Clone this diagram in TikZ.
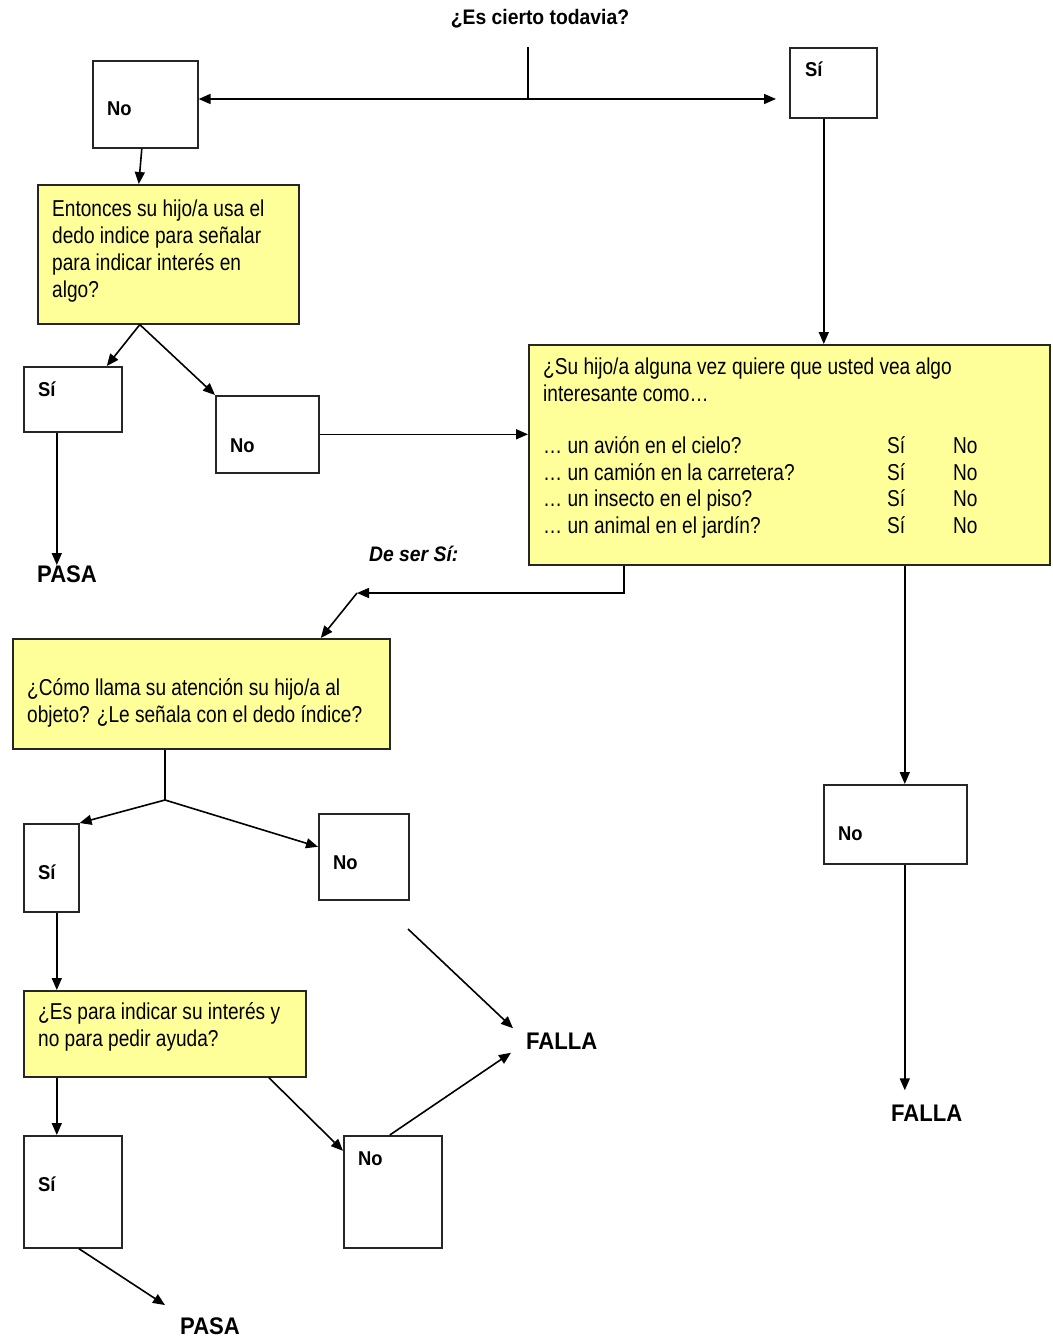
\documentclass[tikz,border=0pt]{standalone}
\usepackage{fontspec}
\setmainfont{Liberation Sans}[FakeStretch=0.83]
\newfontfamily\lblfont{Liberation Sans}[FakeStretch=0.92]
\usetikzlibrary{arrows.meta,calc}
\definecolor{qyellow}{HTML}{FFFF99}
\begin{document}
\begin{tikzpicture}[x=1pt,y=-1pt,
  box/.style={draw=black!85,line width=1.6pt,inner sep=0,anchor=north west},
  qbox/.style={box,fill=qyellow},
  txt/.style={inner sep=0,anchor=base west,font=\fontsize{23}{27}\selectfont},
  lbl/.style={inner sep=0,anchor=base west,font=\lblfont\bfseries\fontsize{20}{24}\selectfont},
  res/.style={inner sep=0,anchor=base west,font=\lblfont\bfseries\fontsize{24}{28}\selectfont},
  link/.style={line width=1.6pt},
  arr/.style={link,-{Triangle[length=12pt,width=10pt]}},
  dblarr/.style={link,{Triangle[length=12pt,width=10pt]}-{Triangle[length=12pt,width=10pt]}}]
\useasboundingbox (0,0) rectangle (1052,1337);

% title and first split
\node[inner sep=0,anchor=base,font=\lblfont\bfseries\fontsize{21}{25}\selectfont] (title) at (540,25) {¿Es cierto todavia?};
\node[box,minimum width=105,minimum height=87] (no1) at (92,60) {};
\node[lbl] (no1t) at (107,116) {No};
\node[box,minimum width=87,minimum height=70] (si1) at (789,47) {};
\node[lbl] (si1t) at (805,77) {Sí};
\coordinate (junction) at (528,99);
\draw[link] (junction) ++(0,-52) -- (junction);
\draw[dblarr] (no1.east |- junction) -- ([xshift=-13pt]si1.west |- junction);

% first question
\node[qbox,minimum width=261,minimum height=139] (y1) at (37,184) {};
\node[txt] (y1a) at (52,217) {Entonces su hijo/a usa el};
\node[txt] (y1b) at (52,244) {dedo indice para señalar};
\node[txt] (y1c) at (52,271) {para indicar interés en};
\node[txt] (y1d) at (52,298) {algo?};
\draw[arr] ([xshift=-3.5pt]no1.south) -- ([xshift=-29.5pt]y1.north);

\node[box,minimum width=98,minimum height=65] (si2) at (23,366) {};
\node[lbl] (si2t) at (38,396) {Sí};
\node[box,minimum width=103,minimum height=77] (no2) at (215,395) {};
\node[lbl] (no2t) at (230,452) {No};
\draw[arr] ([xshift=-28.5pt]y1.south) -- ([xshift=34pt]si2.north);
\draw[arr] ([xshift=-28.5pt]y1.south) -- (no2.north west);
\node[res] (pasa1) at (37,582) {PASA};
\draw[arr] ([xshift=-16pt]si2.south) -- ([xshift=-16pt]si2.south |- pasa1.north);

% second question
\node[qbox,minimum width=521,minimum height=220] (y2) at (528,344) {};
\node[txt] (y2a) at (543,374) {¿Su hijo/a alguna vez quiere que usted vea algo};
\node[txt] (y2b) at (543,401) {interesante como…};
\node[txt] (y2c) at (543,453) {… un avión en el cielo?};
\node[txt] (y2d) at (543,480) {… un camión en la carretera?};
\node[txt] (y2e) at (543,506) {… un insecto en el piso?};
\node[txt] (y2f) at (543,533) {… un animal en el jardín?};
\foreach \yy [count=\i] in {453,480,506,533} {
  \node[txt] (ys\i) at (887,\yy) {Sí};
  \node[txt] (yn\i) at (953,\yy) {No};
}
\draw[arr] ([xshift=-9.5pt]si1.south) -- ([xshift=34.5pt]y2.north);
\draw[arr] (no2.east) -- (no2.east -| y2.west);

\node[inner sep=0,anchor=base west,font=\lblfont\bfseries\itshape\fontsize{21}{25}\selectfont] (deser) at (369,561) {De ser Sí:};
\coordinate (bend) at (357,593);

% third question
\node[qbox,minimum width=377,minimum height=110] (y3) at (12,638) {};
\node[txt] (y3a) at (27,695) {¿Cómo llama su atención su hijo/a al};
\node[txt] (y3b) at (27,722) {objeto? ¿Le señala con el dedo índice?};
\draw[arr] ([xshift=-165.5pt]y2.south) |- (bend);
\draw[arr] (bend) -- ([xshift=119.5pt]y3.north);

% right branch
\node[box,minimum width=143,minimum height=79] (no3) at (823,784) {};
\node[lbl] (no3t) at (838,840) {No};
\node[res] (falla2) at (891,1121) {FALLA};
\draw[arr] ([xshift=115.5pt]y2.south) -- ([xshift=9.5pt]no3.north);
\draw[arr] ([xshift=9.5pt]no3.south) -- ([xshift=9.5pt,yshift=14pt]no3.south |- falla2.north);

% split below the third question
\coordinate (split) at (165,800);
\node[box,minimum width=55,minimum height=88] (si4) at (23,823) {};
\node[lbl] (si4t) at (38,879) {Sí};
\node[box,minimum width=90,minimum height=86] (no4) at (318,813) {};
\node[lbl] (no4t) at (333,869) {No};
\draw[link] (split |- y3.south) -- (split);
\draw[arr] (split) -- (si4.north east);
\draw[arr] (split) -- ([yshift=10pt]no4.west);

\node[res] (falla1) at (526,1049) {FALLA};
\coordinate (nofree) at (408,929);
\draw[arr] (nofree) -- ([xshift=-13pt,yshift=12.5pt]falla1.west);

% fourth question
\node[qbox,minimum width=282,minimum height=86] (y4) at (23,990) {};
\node[txt] (y4a) at (38,1019) {¿Es para indicar su interés y};
\node[txt] (y4b) at (38,1046) {no para pedir ayuda?};
\draw[arr] ([xshift=5.5pt]si4.south) -- ([xshift=5.5pt]si4.south |- y4.north);

\node[box,minimum width=98,minimum height=112] (si5) at (23,1135) {};
\node[lbl] (si5t) at (38,1191) {Sí};
\node[box,minimum width=98,minimum height=112] (no5) at (343,1135) {};
\node[lbl] (no5t) at (358,1165) {No};
\node[res] (pasa2) at (180,1334) {PASA};
\draw[arr] ([xshift=-108pt]y4.south) -- ([xshift=-16pt]si5.north);
\draw[arr] ([xshift=104pt]y4.south) -- ([yshift=41pt]no5.west);
\draw[arr] ([xshift=-3pt]no5.north) -- ([xshift=-15pt,yshift=-12pt]falla1.west);
\draw[arr] ([xshift=6pt]si5.south) -- ([xshift=-15pt,yshift=12pt]pasa2.north west);
\end{tikzpicture}
\end{document}
